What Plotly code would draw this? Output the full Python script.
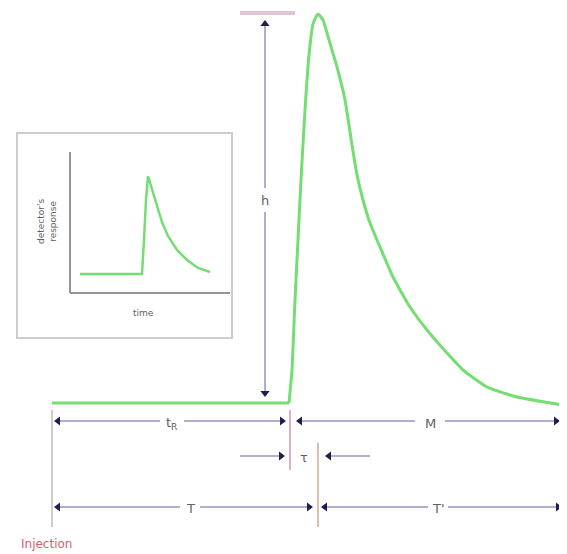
import plotly.graph_objects as go

# main peak (pixel-like units, y grows downwards)
base_x = [52, 150, 250, 289]
base_y = [403, 403, 403, 403]
peak_x = [289, 292, 295, 298, 301, 305, 309, 313, 318, 323, 327, 332, 337, 345,
          352, 357, 363, 370, 380, 393, 410, 427, 447, 463, 487, 517, 563]
peak_y = [403, 370, 300, 240, 180, 110, 55, 24, 14, 20, 33, 50, 67, 100,
          145, 175, 200, 223, 247, 277, 307, 330, 353, 370, 387, 397, 405]

# small inset peak
inset_x = [80, 110, 142, 144, 146, 148, 151, 156, 162, 168, 177, 187, 198, 210]
inset_y = [274, 274, 274, 240, 200, 176, 186, 204, 222, 236, 250, 260, 268, 272]

labels = ["h", "t<sub>R</sub>", "M", "τ", "T", "T'"]

GREEN = "rgb(115,222,115)"
LINE = "rgb(176,176,205)"
HEAD = "rgb(30,30,80)"
PINK = "rgb(228,178,190)"
TXT = "rgb(95,95,95)"

fig = go.Figure()

fig.add_trace(go.Scatter(x=base_x, y=base_y, mode="lines",
                         line=dict(color=GREEN, width=3),
                         hoverinfo="skip"))
fig.add_trace(go.Scatter(x=peak_x, y=peak_y, mode="lines",
                         line=dict(color=GREEN, width=3, shape="spline", smoothing=0.5),
                         hoverinfo="skip"))
fig.add_trace(go.Scatter(x=inset_x, y=inset_y, mode="lines",
                         line=dict(color=GREEN, width=2.5),
                         hoverinfo="skip"))


def seg(x0, y0, x1, y1, color=LINE, width=2):
    fig.add_shape(type="line", x0=x0, y0=y0, x1=x1, y1=y1,
                  line=dict(color=color, width=width), layer="below")


def head(x, y, sym):
    fig.add_trace(go.Scatter(x=[x], y=[y], mode="markers",
                             marker=dict(symbol=sym, size=8, color=HEAD),
                             hoverinfo="skip"))


def label(x, y, t, size=13, color=TXT, **kw):
    fig.add_annotation(x=x, y=y, text=t, showarrow=False,
                       font=dict(size=size, color=color, family="DejaVu Sans"), **kw)


# inset box
fig.add_shape(type="rect", x0=17, y0=133, x1=232, y1=338,
              line=dict(color="rgb(205,205,205)", width=2), layer="below")
seg(70, 152, 70, 293, color="rgb(150,150,150)")
seg(70, 293, 230, 293, color="rgb(150,150,150)")
label(47, 222, "detector's<br>response", size=9, textangle=-90)
label(143, 313, "time", size=9)

# height arrow
seg(240, 13, 295, 13, color="rgb(225,195,215)", width=4)
seg(265, 22, 265, 188)
seg(265, 212, 265, 394)
head(265, 24, "triangle-up")
head(265, 393, "triangle-down")
label(265, 200, labels[0])

# reference verticals
seg(52, 410, 52, 527, color="rgb(205,205,205)")
seg(290, 410, 290, 470, color=PINK)
seg(318, 443, 318, 527, color="rgb(220,190,170)")

# row 1
seg(56, 421, 160, 421)
seg(184, 421, 284, 421)
head(58, 421, "triangle-left")
head(282, 421, "triangle-right")
label(172, 423, labels[1])
seg(298, 421, 415, 421)
seg(445, 421, 563, 421)
head(300, 421, "triangle-left")
head(556, 421, "triangle-right")
label(430, 423, labels[2])

# row 2
seg(240, 456, 283, 456)
seg(327, 456, 370, 456)
head(281, 456, "triangle-right")
head(329, 456, "triangle-left")
label(304, 457, labels[3])

# row 3
seg(56, 507, 180, 507)
seg(200, 507, 312, 507)
head(58, 507, "triangle-left")
head(309, 507, "triangle-right")
label(190, 508, labels[4])
seg(322, 507, 428, 507)
seg(448, 507, 563, 507)
head(325, 507, "triangle-left")
head(558, 507, "triangle-right")
label(438, 508, labels[5])

label(46, 544, "Injection", size=12, color="rgb(215,90,110)")

# page body has an 8px margin, so the figure is 8px smaller and the ranges start at 8
fig.update_layout(
    width=559, height=546,
    margin=dict(l=0, r=0, t=0, b=0),
    plot_bgcolor="white", paper_bgcolor="white",
    showlegend=False,
    xaxis=dict(range=[8, 567], visible=False, fixedrange=True),
    yaxis=dict(range=[554, 8], visible=False, fixedrange=True),
)

fig.write_html("out.html")
